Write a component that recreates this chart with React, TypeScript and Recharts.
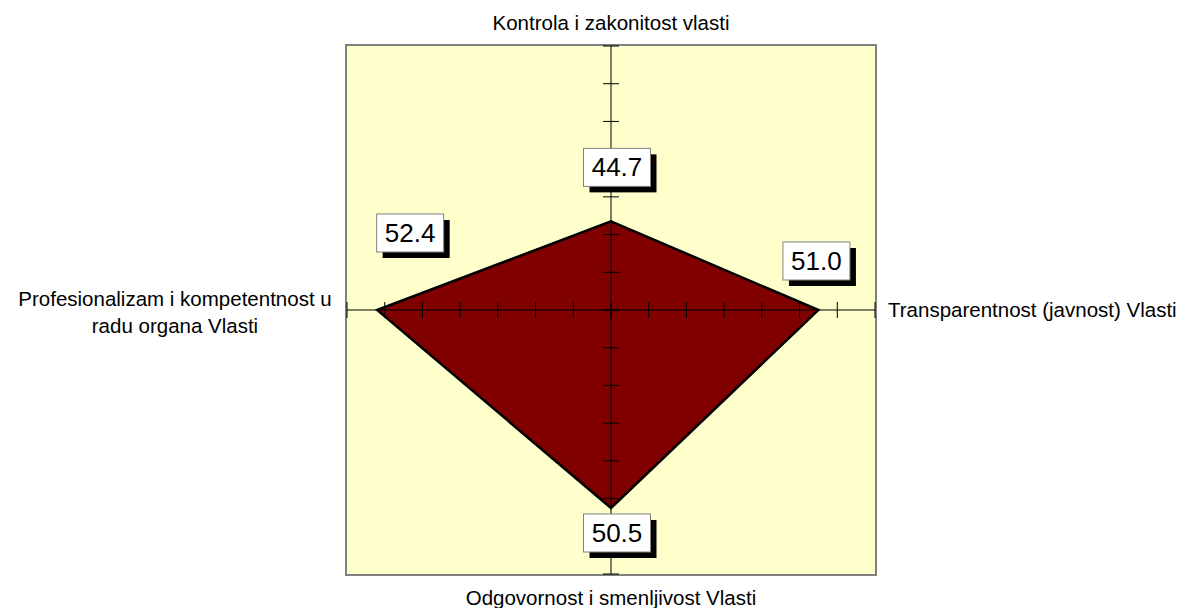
import React from "react";
import { RadarChart, Radar, PolarAngleAxis, PolarRadiusAxis } from "recharts";

// Categories go clockwise from the top
const categories = [
  "Kontrola i zakonitost vlasti",
  "Transparentnost (javnost) Vlasti",
  "Odgovornost i smenljivost Vlasti",
  "Profesionalizam i kompetentnost u radu organa Vlasti",
];
const categoryLines = [
  ["Kontrola i zakonitost vlasti"],
  ["Transparentnost (javnost) Vlasti"],
  ["Odgovornost i smenljivost Vlasti"],
  ["Profesionalizam i kompetentnost u", "radu organa Vlasti"],
];
const scores = [44.7, 51.0, 50.5, 52.4];
const radiusDomain = [40, 54];

const data = categories.map((name, i) => ({ name, score: scores[i] }));

const FONT = "'Liberation Sans', Arial, sans-serif";
const W = 1181;
const H = 600;
const CX = 603;
const CY = 302;
const R = 264;

// where each value box sits relative to its point
const labelOffsets = [
  [6, -54],
  [-2, -49],
  [6, 25],
  [33, -77],
];
// angle axis label placement
const catOffsets = [
  { dx: 0, dy: -8, anchor: "middle" },
  { dx: 5, dy: 7, anchor: "start" },
  { dx: 0, dy: 23, anchor: "middle" },
  { dx: -164, dy: -4, anchor: "middle" },
];

const CategoryTick = (props: any) => {
  const { x, y, payload } = props;
  const i = categories.indexOf(payload?.value);
  const o = catOffsets[i] || { dx: 0, dy: 0, anchor: "middle" };
  const lines = categoryLines[i] || [String(payload?.value)];
  return (
    <text
      x={x + o.dx}
      y={y + o.dy}
      textAnchor={o.anchor}
      fontFamily={FONT}
      fontSize={20.5}
      fill="#000"
    >
      {lines.map((line, k) => (
        <tspan key={k} x={x + o.dx} dy={k === 0 ? 0 : 27}>
          {line}
        </tspan>
      ))}
    </text>
  );
};

const makeTick = (vertical: boolean) => (props: any) => {
  const { x, y } = props;
  return vertical ? (
    <line x1={x - 8} x2={x + 8} y1={y} y2={y} stroke="#000" strokeWidth={1} />
  ) : (
    <line x1={x} x2={x} y1={y - 8} y2={y + 8} stroke="#000" strokeWidth={1} />
  );
};

const ValueLabel = (props: any) => {
  const x = props.viewBox?.x ?? props.x;
  const y = props.viewBox?.y ?? props.y;
  const index = props.index ?? 0;
  const [dx, dy] = labelOffsets[index] || [0, -40];
  const bw = 67;
  const bh = 38;
  const bx = x + dx - bw / 2;
  const by = y + dy - bh / 2;
  return (
    <g>
      <rect x={bx + 6} y={by + 6} width={bw} height={bh} fill="#000" />
      <rect x={bx} y={by} width={bw} height={bh} fill="#fff" stroke="#808080" strokeWidth={1} />
      <text
        x={bx + bw / 2}
        y={by + bh / 2 + 9}
        textAnchor="middle"
        fontFamily={FONT}
        fontSize={26}
        fill="#000"
      >
        {Number(props.value).toFixed(1)}
      </text>
    </g>
  );
};

// the four half-axes of the cross: up, right, down, left
const axisAngles = [90, 0, 270, 180];

export default function App() {
  return (
    <div style={{ position: "relative", width: W, height: H }}>
      <div
        style={{
          position: "absolute",
          left: CX - R - 2,
          top: CY - R - 2,
          width: 2 * R + 4,
          height: 2 * R + 4,
          background: "#FFFFCC",
          border: "2px solid #808080",
          boxSizing: "border-box",
        }}
      />
      <RadarChart
        width={W}
        height={H}
        cx={CX}
        cy={CY}
        outerRadius={R}
        data={data}
        style={{ position: "absolute", left: 0, top: 0 }}
      >
        <PolarAngleAxis
          dataKey="name"
          axisLine={false}
          tickLine={false}
          tick={<CategoryTick />}
        />
        <Radar
          dataKey="score"
          fill="#800000"
          fillOpacity={1}
          stroke="#000"
          strokeWidth={2.5}
          dot={false}
          isAnimationActive={false}
        />
        {/* hidden series so each half-axis gets its own scale */}
        {axisAngles.slice(1).map((a, k) => (
          <Radar
            key={`h${a}`}
            radiusAxisId={k + 1}
            dataKey="score"
            fill="none"
            fillOpacity={0}
            stroke="none"
            dot={false}
            legendType="none"
            isAnimationActive={false}
          />
        ))}
        {axisAngles.map((a, k) => (
          <PolarRadiusAxis
            key={a}
            radiusAxisId={k}
            angle={a}
            domain={radiusDomain}
            type="number"
            tickCount={8}
            axisLine={{ stroke: "#000", strokeWidth: 1 }}
            tick={makeTick(a === 90 || a === 270)}
          />
        ))}
        <Radar
          dataKey="score"
          fill="none"
          fillOpacity={0}
          stroke="none"
          dot={false}
          isAnimationActive={false}
          label={(p: any) => <ValueLabel {...p} />}
        />
      </RadarChart>
    </div>
  );
}
